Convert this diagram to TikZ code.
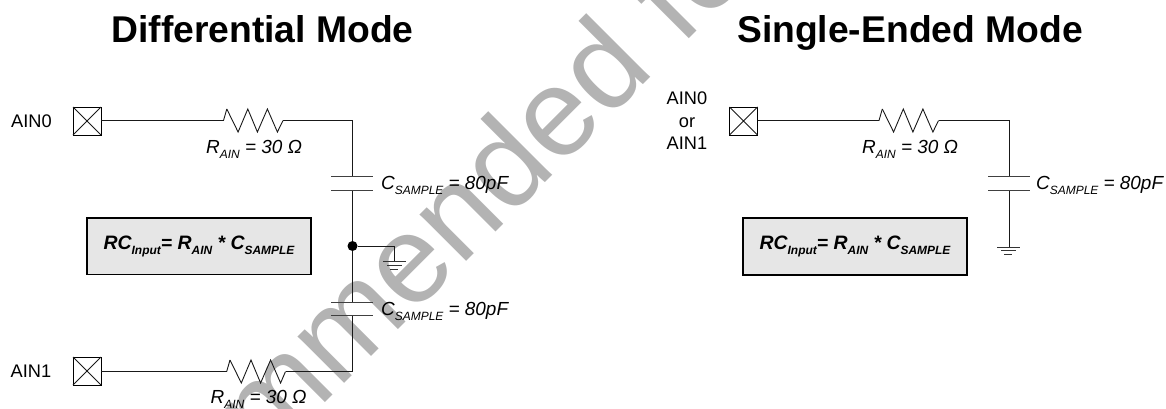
\documentclass[tikz,border=0pt]{standalone}
\usepackage{fontspec}
\setmainfont{Liberation Sans}
\definecolor{mark}{HTML}{B3B3B3}
\definecolor{boxfill}{HTML}{E6E6E6}
\newcommand\subs[1]{\raisebox{-.28em}{\fontsize{12}{12}\selectfont #1}}
\newcommand\ressym[1]{\draw[wire] (#1) ++(3.3,-11.5) -- ++(11.3,23) -- ++(9.7,-23) -- ++(9.6,23) -- ++(10,-23) -- ++(10,23) -- (#1e);}
\tikzset{
  wire/.style={line width=.9bp,draw=black!90},
  pad/.style={draw,line width=.9bp,minimum size=28bp,inner sep=0,outer sep=0,rectangle},
  plate/.style={line width=.9bp,draw=black!75},
  gnd/.style={line width=.8bp,draw=black!80},
  lab/.style={font=\fontsize{18.3}{18.3}\selectfont,inner sep=0,align=center},
  val/.style={font=\fontsize{19}{19}\selectfont\itshape,inner sep=0,anchor=base west},
  title/.style={font=\fontsize{37.4}{37.4}\selectfont\bfseries,inner sep=0,anchor=base},
  rcbox/.style={draw,line width=1.6bp,fill=boxfill,minimum width=224bp,minimum height=56.5bp,inner sep=0,
    font=\fontsize{19.5}{19.5}\selectfont\bfseries\itshape},
}
\newcommand\rctext{RC\subs{Input}= R\subs{AIN} * C\subs{SAMPLE}}
\begin{document}
\begin{tikzpicture}[x=1bp,y=-1bp]
\useasboundingbox (0,0) rectangle (1166,408);
\clip (0,0) rectangle (1166,408);
\node[rotate=45,anchor=base west,inner sep=0,text=mark,font=\fontsize{125}{125}\selectfont] (wm) at (265,463) {mmended fo};
\node[title] (t1) at (262.5,42) {Differential Mode};
\node[title] (t2) at (910,42) {Single-Ended Mode};
% left
\node[lab] (l0) at (31.5,121) {AIN0};
\node[lab] (l1) at (31,371) {AIN1};
\node[pad] (p0) at (87,121) {};
\node[pad] (p1) at (87,371) {};
\draw[wire] (p0.north west)--(p0.south east) (p0.north east)--(p0.south west);
\draw[wire] (p1.north west)--(p1.south east) (p1.north east)--(p1.south west);
\coordinate (r0) at (223.5,120.5); \coordinate (r0e) at (283,120.5);
\coordinate (r1) at (226.7,371.5); \coordinate (r1e) at (285.5,371.5);
\draw[wire] (p0.east |- r0) -- (r0) -- ++(3.3,-11.5);
\draw[wire] (p1.east |- r1) -- (r1) -- ++(3.3,-11.5);
\ressym{r0}
\ressym{r1}
\coordinate (c0t) at (352.5,176); \coordinate (c0b) at (352.5,190.5);
\coordinate (c1t) at (352.5,302.3); \coordinate (c1b) at (352.5,315.7);
\coordinate (g0) at (394.3,261);
\draw[wire] (r0e) -| (c0t);
\draw[plate] (331,176) -- (373,176) (331,190.5) -- (373,190.5);
\draw[plate] (331,302.3) -- (373,302.3) (331,315.7) -- (373,315.7);
\node[circle,fill=black,minimum size=10bp,inner sep=0] (j) at (352.5,246) {};
\draw[wire] (c0b) -- (j) -- (c1t);
\draw[wire] (j) -| (g0);
\draw[wire] (c1b) -- (r1e -| c1b) -- (r1e);
\draw[gnd] (383,261) -- (406,261) (387,265) -- (402,265) (390,269.3) -- (398,269.3);
\node[val] (v1) at (206,153) {R\subs{AIN} = 30 Ω};
\node[val] (v2) at (381,189) {C\subs{SAMPLE} = 80pF};
\node[val] (v3) at (381,315) {C\subs{SAMPLE} = 80pF};
\node[val] (v4) at (210.5,403) {R\subs{AIN} = 30 Ω};
\node[rcbox] (b0) at (199,246.3) {\rctext};
% right
\node[lab] (l2) at (687,121) {AIN0\\[4.2bp]or\\[4.2bp]AIN1};
\node[pad] (p2) at (743.5,121) {};
\draw[wire] (p2.north west)--(p2.south east) (p2.north east)--(p2.south west);
\coordinate (r2) at (879,120.5); \coordinate (r2e) at (938.5,120.5);
\draw[wire] (p2.east |- r2) -- (r2) -- ++(3.3,-11.5);
\ressym{r2}
\coordinate (c2t) at (1009,176); \coordinate (c2b) at (1009,190); \coordinate (g2) at (1009,247);
\draw[wire] (r2e) -| (c2t);
\draw[wire] (c2b) -- (g2);
\draw[plate] (988,176) -- (1030,176) (988,190) -- (1030,190);
\draw[gnd] (997,247) -- (1020,247) (1001,250.5) -- (1016,250.5) (1004,254) -- (1012,254);
\node[val] (v5) at (862,153) {R\subs{AIN} = 30 Ω};
\node[val] (v6) at (1036,189) {C\subs{SAMPLE} = 80pF};
\node[rcbox] (b2) at (855,246.5) {\rctext};
\end{tikzpicture}
\end{document}
